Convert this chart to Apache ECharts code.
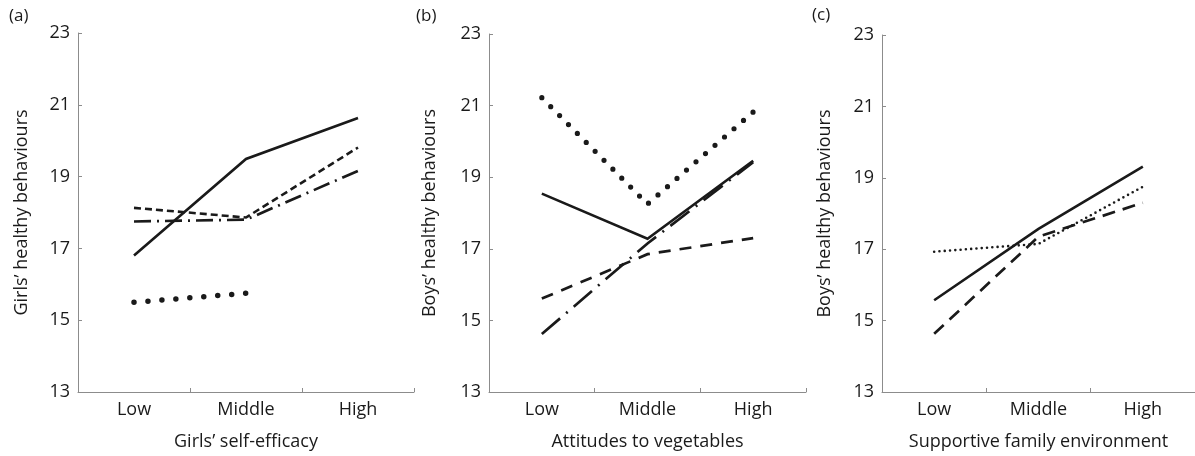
<!DOCTYPE html>
<html>
<head>
<meta charset="utf-8">
<script src="https://cdn.jsdelivr.net/npm/echarts@6/dist/echarts.min.js"></script>
<style>
  html, body { margin: 0; padding: 0; background: #fff; }
  #chart { width: 1195px; height: 456px; }
</style>
</head>
<body>
<div id="chart"></div>
<script>
const categories = ['Low', 'Middle', 'High'];

// (a) girls, by self-efficacy
const aSolid = [16.8, 19.49, 20.63];
const aShortDash = [18.13, 17.86, 19.81];
const aDashDot = [17.75, 17.8, 19.16];
const aDotted = [15.5, 15.75, null];

// (b) boys, by attitudes to vegetables
const bDotted = [21.22, 18.25, 20.82];
const bSolid = [18.54, 17.28, 19.46];
const bDashed = [15.61, 16.85, 17.3];
const bDashDot = [14.62, 17.15, 19.42];

// (c) boys, by supportive family environment
const cSolid = [15.57, 17.57, 19.31];
const cDashed = [14.63, 17.35, 18.3];
const cDotted = [16.93, 17.15, 18.75];

const panelLabels = ['(a)', '(b)', '(c)'];
const xNames = ["Girls\u2019 self-efficacy", 'Attitudes to vegetables', 'Supportive family environment'];
const yNames = ["Girls\u2019 healthy behaviours", "Boys\u2019 healthy behaviours", "Boys\u2019 healthy behaviours"];

const FONT = '"Open Sans", "Liberation Sans", Arial, sans-serif';
const INK = '#1a1a1a';
const AXIS = '#8c8c8c';

const grids = [
  { left: 78, top: 33, width: 336, height: 367 },
  { left: 489, top: 34, width: 317, height: 366 },
  { left: 882, top: 35, width: 313, height: 365 }
];
const yNameGaps = [47, 50, 48];
const titlePos = [[9, 8], [416, 8], [812, 7]];

function line(gridIndex, data, width, dash, cap) {
  return {
    type: 'line',
    xAxisIndex: gridIndex,
    yAxisIndex: gridIndex,
    data: data,
    symbol: 'none',
    silent: true,
    connectNulls: false,
    lineStyle: {
      color: INK,
      width: width,
      type: dash || 'solid',
      cap: cap || 'butt',
      join: 'miter'
    }
  };
}

const option = {
  animation: false,
  backgroundColor: '#fff',
  textStyle: { fontFamily: FONT },
  title: panelLabels.map((t, i) => ({
    text: t,
    left: titlePos[i][0],
    top: titlePos[i][1],
    padding: 0,
    textStyle: { fontFamily: FONT, fontSize: 17, fontWeight: 'normal', color: INK }
  })),
  grid: grids.map(g => Object.assign({ containLabel: false }, g)),
  xAxis: grids.map((g, i) => ({
    type: 'category',
    gridIndex: i,
    data: categories,
    boundaryGap: true,
    name: xNames[i],
    nameLocation: 'middle',
    nameGap: 41,
    nameTextStyle: { fontFamily: FONT, fontSize: 18, color: INK },
    axisLine: { show: true, lineStyle: { color: AXIS, width: 1 } },
    axisTick: { show: true, inside: true, length: 4, lineStyle: { color: AXIS } },
    axisLabel: { fontFamily: FONT, fontSize: 18, color: INK, margin: 9 },
    splitLine: { show: false }
  })),
  yAxis: grids.map((g, i) => ({
    type: 'value',
    gridIndex: i,
    min: 13,
    max: 23,
    interval: 2,
    name: yNames[i],
    nameLocation: 'middle',
    nameGap: yNameGaps[i],
    nameRotate: 90,
    nameTextStyle: { fontFamily: FONT, fontSize: 18, color: INK },
    axisLine: { show: true, lineStyle: { color: AXIS, width: 1 } },
    axisTick: { show: true, inside: true, length: 4, lineStyle: { color: AXIS } },
    axisLabel: { fontFamily: FONT, fontSize: 18, color: INK, margin: 8 },
    splitLine: { show: false }
  })),
  series: [
    line(0, aSolid, 2.6),
    line(0, aShortDash, 2.6, [7, 4]),
    line(0, aDashDot, 2.7, [17, 6, 2, 6]),
    line(0, aDotted, 5.5, [0, 14], 'round'),

    line(1, bDotted, 5.2, [0, 12.6], 'round'),
    line(1, bSolid, 2.6),
    line(1, bDashed, 2.7, [12, 9]),
    line(1, bDashDot, 2.7, [24, 8, 2, 8]),

    line(2, cSolid, 2.6),
    line(2, cDashed, 2.7, [13, 8]),
    line(2, cDotted, 2.6, [0, 5.3], 'round')
  ]
};

const chart = echarts.init(document.getElementById('chart'), null, { renderer: 'canvas' });
chart.setOption(option);
</script>
</body>
</html>
